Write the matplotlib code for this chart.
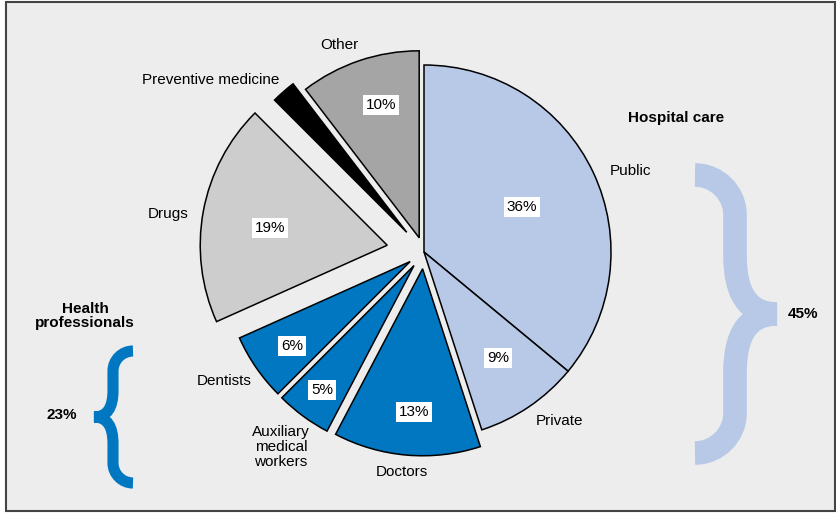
import matplotlib
matplotlib.use("Agg")
import matplotlib.pyplot as plt
from matplotlib.path import Path
from matplotlib.patches import PathPatch, Rectangle

plt.rcParams['font.family'] = ['Liberation Sans', 'DejaVu Sans']

# data, clockwise from the top (slice sizes, labels are rounded)
categories = ["Public", "Private", "Doctors", "Auxiliary\nmedical\nworkers",
              "Dentists", "Drugs", "Preventive medicine", "Other"]
shares = [36.0, 9.0, 12.7, 4.8, 5.8, 19.2, 2.1, 10.4]
show_pct = [True, True, True, True, True, True, False, True]
hospital_total = 45
professionals_total = 23

colors = ["#B7C9E7", "#B7C9E7", "#0077C0", "#0077C0", "#0077C0",
          "#CDCDCD", "#000000", "#A5A5A5"]
explode_frac = [0, 0, 0.09, 0.09, 0.09, 0.2, 0.14, 0.08]

# label placement (pixel coords, y down)
name_pos = [(631, 171), (560, 421), (402, 472), (281, 447),
            (224, 381), (168, 214), (211, 80), (339, 45)]
pct_pos = [(522, 207), (498, 358), (414, 412), (322, 390),
           (292, 346), (270, 228), None, (381, 105)]

W, H = 837, 514
R = 187
fig = plt.figure(figsize=(W / 100, H / 100), dpi=100, facecolor="white")
ax = fig.add_axes([0, 0, 1, 1])

# y axis inverted so coordinates read like pixels; pie direction adjusted to match
ax.pie(shares, explode=[e * R for e in explode_frac], colors=colors,
       startangle=-90, counterclock=True, center=(424, 252), radius=R,
       wedgeprops=dict(edgecolor="black", linewidth=1.1))
ax.set_xlim(0, W)
ax.set_ylim(H, 0)
ax.set_aspect("equal")
ax.axis("off")

# background panel with frame
ax.add_patch(Rectangle((6, 2), 829, 509, facecolor="#EDEDED", edgecolor="#444444",
                       linewidth=1.5, zorder=-10))

for name, (x, y) in zip(categories, name_pos):
    ax.text(x, y, name, fontsize=11, ha="center", va="center", linespacing=1.05)

for v, show, pos in zip(shares, show_pct, pct_pos):
    if show:
        ax.text(pos[0], pos[1], f"{round(v)}%", fontsize=11, ha="center", va="center",
                bbox=dict(boxstyle="square,pad=0.2", facecolor="white", edgecolor="none"))


def brace(x_end, x_mid, x_tip, y_top, y_bot, color, lw):
    ym = (y_top + y_bot) / 2
    s = 1 if x_tip > x_end else -1
    r = abs(x_mid - x_end)
    k = 0.55 * r
    t = abs(x_tip - x_mid)
    verts = [(x_end, y_top),
             (x_end + s * k, y_top), (x_mid, y_top + r - k), (x_mid, y_top + r),
             (x_mid, ym - 1.4 * t),
             (x_mid, ym - 0.5 * t), (x_mid + s * 0.3 * t, ym), (x_tip, ym),
             (x_mid + s * 0.3 * t, ym), (x_mid, ym + 0.5 * t), (x_mid, ym + 1.4 * t),
             (x_mid, y_bot - r),
             (x_mid, y_bot - r + k), (x_end + s * k, y_bot), (x_end, y_bot)]
    codes = [Path.MOVETO,
             Path.CURVE4, Path.CURVE4, Path.CURVE4,
             Path.LINETO,
             Path.CURVE4, Path.CURVE4, Path.CURVE4,
             Path.CURVE4, Path.CURVE4, Path.CURVE4,
             Path.LINETO,
             Path.CURVE4, Path.CURVE4, Path.CURVE4]
    ax.add_patch(PathPatch(Path(verts, codes), facecolor="none", edgecolor=color,
                           linewidth=lw, capstyle="butt", joinstyle="miter"))


brace(695, 735, 777, 175, 453, "#B7C9E7", 17)
brace(133, 113, 94, 351, 483, "#0077C0", 8)

ax.text(676, 118, "Hospital care", fontsize=11, fontweight="bold", ha="center", va="center")
ax.text(803, 314, f"{hospital_total}%", fontsize=11, fontweight="bold", ha="center", va="center")
ax.text(85, 316, "Health\nprofessionals", fontsize=11, fontweight="bold",
        ha="center", va="center", linespacing=1.0)
ax.text(62, 415, f"{professionals_total}%", fontsize=11, fontweight="bold",
        ha="center", va="center")

fig.savefig("out.png", dpi=100, facecolor="white")
